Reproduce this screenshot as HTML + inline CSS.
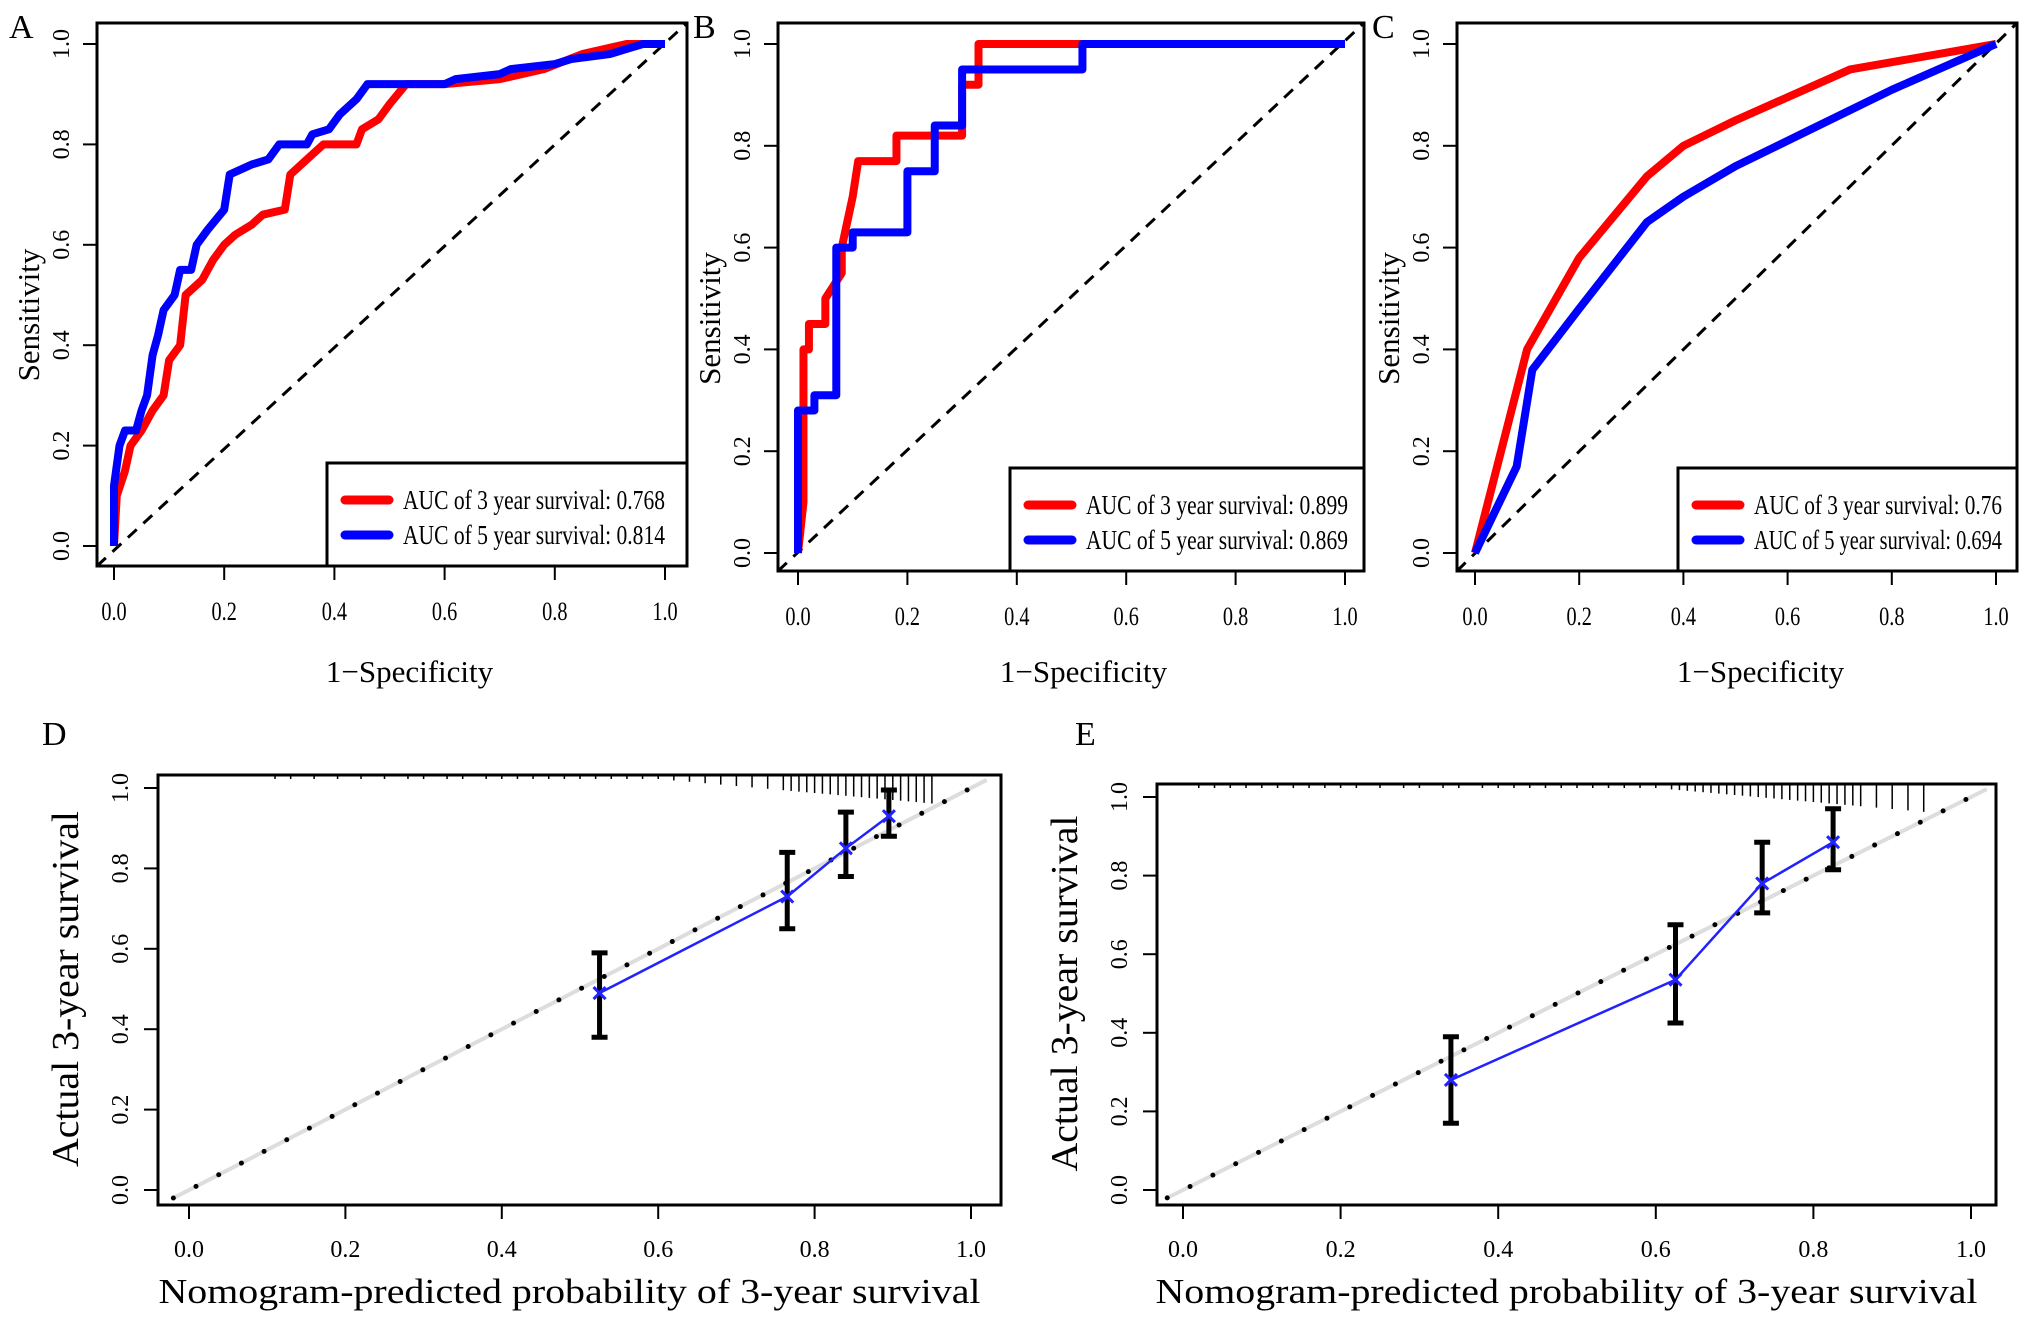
<!DOCTYPE html>
<html><head><meta charset="utf-8"><style>
html,body{margin:0;padding:0;background:#fff;}
svg{display:block;font-family:"Liberation Serif",serif;}
</style></head><body>
<svg id="fig" width="2031" height="1322" viewBox="0 0 2031 1322" xmlns="http://www.w3.org/2000/svg"></svg>
<script>
// ---- ROC data ----
const rocA_red_x=[0,0.005,0.02,0.03,0.05,0.07,0.09,0.1,0.12,0.13,0.16,0.18,0.2,0.22,0.25,0.27,0.31,0.32,0.35,0.38,0.44,0.45,0.48,0.5,0.53,0.6,0.7,0.78,0.85,0.93,1];
const rocA_red_y=[0,0.1,0.15,0.2,0.23,0.27,0.3,0.37,0.4,0.5,0.53,0.57,0.6,0.62,0.64,0.66,0.67,0.74,0.77,0.8,0.8,0.83,0.85,0.88,0.92,0.92,0.93,0.95,0.98,1,1];
const rocA_blue_x=[0,0,0.01,0.02,0.04,0.05,0.06,0.07,0.08,0.09,0.11,0.12,0.14,0.15,0.17,0.2,0.21,0.25,0.28,0.3,0.35,0.36,0.39,0.41,0.44,0.46,0.6,0.62,0.7,0.72,0.8,0.83,0.9,0.96,1];
const rocA_blue_y=[0,0.12,0.2,0.23,0.23,0.27,0.3,0.38,0.42,0.47,0.5,0.55,0.55,0.6,0.63,0.67,0.74,0.76,0.77,0.8,0.8,0.82,0.83,0.86,0.89,0.92,0.92,0.93,0.94,0.95,0.96,0.97,0.98,1,1];
const rocB_red_x=[0,0.01,0.01,0.02,0.02,0.05,0.05,0.08,0.08,0.09,0.1,0.11,0.18,0.18,0.3,0.3,0.33,0.33,1];
const rocB_red_y=[0,0.1,0.4,0.4,0.45,0.45,0.5,0.55,0.6,0.65,0.7,0.77,0.77,0.82,0.82,0.92,0.92,1,1];
const rocB_blue_x=[0,0,0.03,0.03,0.07,0.07,0.1,0.1,0.2,0.2,0.25,0.25,0.3,0.3,0.52,0.52,1];
const rocB_blue_y=[0,0.28,0.28,0.31,0.31,0.6,0.6,0.63,0.63,0.75,0.75,0.84,0.84,0.95,0.95,1,1];
const rocC_red_x=[0,0.05,0.1,0.2,0.33,0.4,0.5,0.72,1];
const rocC_red_y=[0,0.2,0.4,0.58,0.74,0.8,0.85,0.95,1];
const rocC_blue_x=[0,0.08,0.11,0.2,0.33,0.4,0.5,0.8,1];
const rocC_blue_y=[0,0.17,0.36,0.48,0.65,0.7,0.76,0.91,1];
const aucA=["0.768","0.814"], aucB=["0.899","0.869"], aucC=["0.76","0.694"];
// ---- calibration data ----
const calD_x=[0.525,0.765,0.84,0.895], calD_y=[0.49,0.73,0.85,0.93], calD_lo=[0.38,0.65,0.78,0.88], calD_hi=[0.59,0.84,0.94,0.995];
const calE_x=[0.34,0.625,0.735,0.825], calE_y=[0.28,0.535,0.78,0.885], calE_lo=[0.17,0.425,0.705,0.815], calE_hi=[0.39,0.675,0.885,0.97];
const rugD=[0.11,0.13,0.16,0.19,0.22,0.25,0.28,0.3,0.33,0.35,0.38,0.4,0.42,0.44,0.46,0.48,0.5,0.52,0.54,0.56,0.58,0.6,0.62,0.64,0.66,0.68,0.7,0.72,0.74,0.76,0.77,0.78,0.79,0.8,0.81,0.82,0.83,0.84,0.85,0.86,0.87,0.88,0.89,0.9,0.91,0.92,0.93,0.94,0.95];
const rugE=[0.02,0.04,0.06,0.08,0.1,0.12,0.14,0.16,0.18,0.2,0.22,0.25,0.28,0.3,0.33,0.35,0.38,0.4,0.42,0.44,0.46,0.48,0.5,0.52,0.54,0.56,0.58,0.6,0.62,0.63,0.64,0.65,0.66,0.67,0.68,0.69,0.7,0.71,0.72,0.73,0.74,0.75,0.76,0.77,0.78,0.79,0.8,0.81,0.82,0.83,0.84,0.85,0.86,0.88,0.9,0.92,0.94];
const ticks=[0,0.2,0.4,0.6,0.8,1.0], tickLabels=["0.0","0.2","0.4","0.6","0.8","1.0"];

const NS="http://www.w3.org/2000/svg", svg=document.getElementById('fig');
function el(t,a,p){const e=document.createElementNS(NS,t);for(const k in a)e.setAttribute(k,a[k]);(p||svg).appendChild(e);return e;}
function txt(s,a,p){const e=el('text',a,p);e.textContent=s;return e;}

function roc(cfg){
  const g=el('g',{});
  
  
  const X=v=>cfg.x0+v*(cfg.x1-cfg.x0), Y=v=>cfg.y0-v*(cfg.y0-cfg.y1);
  const L=txt(cfg.letter,{x:cfg.bx0-88+cfg.lx,y:38,'font-size':34},g);
  
  const d=el('line',{x1:cfg.bx0,y1:cfg.by1,x2:cfg.bx1,y2:cfg.by0,stroke:'#000','stroke-width':3,'stroke-dasharray':'12,9'},g);
  
  ticks.forEach((t,i)=>{
    el('line',{x1:X(t),x2:X(t),y1:cfg.by1,y2:cfg.by1+14,stroke:'#000','stroke-width':2},g);
    const a=txt(tickLabels[i],{x:X(t),y:cfg.by1+54,'font-size':26,'text-anchor':'middle',transform:`translate(${X(t)},0) scale(0.78,1) translate(${-X(t)},0)`},g);
    
    el('line',{x1:cfg.bx0-14,x2:cfg.bx0,y1:Y(t),y2:Y(t),stroke:'#000','stroke-width':2},g);
    const b=txt(tickLabels[i],{x:0,y:0,'font-size':24,'text-anchor':'middle',transform:`translate(${cfg.bx0-28},${Y(t)}) rotate(-90)`},g);
    
  });
  const xt=txt('1−Specificity',{x:(cfg.x0+cfg.x1)/2+cfg.tx,y:682,'font-size':31,'text-anchor':'middle'},g);
  
  const yt=txt('Sensitivity',{x:0,y:0,'font-size':31,'text-anchor':'middle',transform:`translate(${cfg.bx0-58},${(cfg.y0+cfg.y1)/2+20}) rotate(-90)`},g);
  
  [[cfg.red_x,cfg.red_y,'#f00','curve-3-year'],[cfg.blue_x,cfg.blue_y,'#00f','curve-5-year']].forEach(s=>{
    const p=el('polyline',{points:s[0].map((v,i)=>X(v)+','+Y(s[1][i])).join(' '),fill:'none',stroke:s[2],'stroke-width':8,'stroke-linejoin':'round'},g);
    
  });
  const lg=el('g',{},g);
  
  el('rect',{x:cfg.lgx,y:cfg.lgy,width:cfg.bx1-cfg.lgx,height:cfg.by1-cfg.lgy,fill:'#fff',stroke:'#000','stroke-width':3},lg);
  [['3',cfg.auc[0],'#f00'],['5',cfg.auc[1],'#00f']].forEach((r,i)=>{
    const yy=cfg.lgy+37+i*35;
    el('line',{x1:cfg.lgx+18,x2:cfg.lgx+62,y1:yy,y2:yy,stroke:r[2],'stroke-width':9,'stroke-linecap':'round'},lg);
    const t=txt(`AUC of ${r[0]} year survival:  ${r[1]}`,{x:cfg.lgx+76,y:yy+9,'font-size':27,textLength:cfg.tl,lengthAdjust:'spacingAndGlyphs'},lg);
    
  });
  const bx=el('rect',{x:cfg.bx0,y:cfg.by0,width:cfg.bx1-cfg.bx0,height:cfg.by1-cfg.by0,fill:'none',stroke:'#000','stroke-width':3},g);
  
}
roc({letter:'A',lx:0,tx:20,bx0:97,bx1:687,by0:23,by1:566,x0:114,x1:665,y0:546,y1:44,red_x:rocA_red_x,red_y:rocA_red_y,blue_x:rocA_blue_x,blue_y:rocA_blue_y,auc:aucA,lgx:327,lgy:463,tl:262});
roc({letter:'B',lx:3,tx:12,bx0:778,bx1:1364,by0:23,by1:571,x0:798,x1:1345,y0:553,y1:44,red_x:rocB_red_x,red_y:rocB_red_y,blue_x:rocB_blue_x,blue_y:rocB_blue_y,auc:aucB,lgx:1010,lgy:468,tl:262});
roc({letter:'C',lx:3,tx:25,bx0:1457,bx1:2017,by0:23,by1:571,x0:1475,x1:1996,y0:553,y1:44,red_x:rocC_red_x,red_y:rocC_red_y,blue_x:rocC_blue_x,blue_y:rocC_blue_y,auc:aucC,lgx:1678,lgy:468,tl:248});

function cal(cfg){
  const g=el('g',{});
  
  
  const X=v=>cfg.x0+v*(cfg.x1-cfg.x0), Y=v=>cfg.y0-v*(cfg.y0-cfg.y1);
  const L=txt(cfg.letter,{x:cfg.lx,y:745,'font-size':34},g);
  
  const il=el('line',{x1:X(-0.02),y1:Y(-0.02),x2:X(1.02),y2:Y(1.02),stroke:'#ddd','stroke-width':4},g);
  
  const dl=el('line',{x1:X(-0.02),y1:Y(-0.02),x2:X(1.02),y2:Y(1.02),stroke:'#000','stroke-width':5,'stroke-linecap':'round','stroke-dasharray':'0,25.5'},g);
  
  cfg.rug.forEach(r=>{
    const l=el('line',{x1:X(r),x2:X(r),y1:cfg.by0,y2:cfg.by0+4+Math.max(0,(r-0.6))*70,stroke:'#000','stroke-width':1.5},g);
    
  });
  ticks.forEach((t,i)=>{
    el('line',{x1:X(t),x2:X(t),y1:cfg.by1,y2:cfg.by1+14,stroke:'#000','stroke-width':2},g);
    const a=txt(tickLabels[i],{x:X(t),y:cfg.by1+52,'font-size':24,'text-anchor':'middle'},g);
    
    el('line',{x1:cfg.bx0-14,x2:cfg.bx0,y1:Y(t),y2:Y(t),stroke:'#000','stroke-width':2},g);
    const b=txt(tickLabels[i],{x:0,y:0,'font-size':24,'text-anchor':'middle',transform:`translate(${cfg.bx0-30},${Y(t)}) rotate(-90)`},g);
    
  });
  const xt=txt('Nomogram-predicted probability of 3-year survival',{x:(cfg.bx0+cfg.bx1)/2-10,y:1303,'font-size':35,'text-anchor':'middle',textLength:822,lengthAdjust:'spacingAndGlyphs'},g);
  
  const yt=txt('Actual 3-year survival',{x:0,y:0,'font-size':38,'text-anchor':'middle',textLength:356,lengthAdjust:'spacingAndGlyphs',transform:`translate(${cfg.bx0-80},${(cfg.y0+cfg.y1)/2}) rotate(-90)`},g);
  
  const p=el('polyline',{points:cfg.xs.map((v,i)=>X(v)+','+Y(cfg.ys[i])).join(' '),fill:'none',stroke:'#22f','stroke-width':2.5},g);
  
  cfg.xs.forEach((v,i)=>{
    const x=X(v);
    const e=el('path',{d:`M${x},${Y(cfg.lo[i])}V${Y(cfg.hi[i])}M${x-8},${Y(cfg.lo[i])}H${x+8}M${x-8},${Y(cfg.hi[i])}H${x+8}`,stroke:'#000','stroke-width':5,fill:'none'},g);
    
    const y=Y(cfg.ys[i]);
    const m=el('path',{d:`M${x-6},${y-6}L${x+6},${y+6}M${x-6},${y+6}L${x+6},${y-6}`,stroke:'#22f','stroke-width':3},g);
    
  });
  const bx=el('rect',{x:cfg.bx0,y:cfg.by0,width:cfg.bx1-cfg.bx0,height:cfg.by1-cfg.by0,fill:'none',stroke:'#000','stroke-width':3},g);
  
}
cal({letter:'D',lx:42,bx0:158,bx1:1001,by0:775,by1:1205,x0:189,x1:971,y0:1190,y1:788,xs:calD_x,ys:calD_y,lo:calD_lo,hi:calD_hi,rug:rugD});
cal({letter:'E',lx:1075,bx0:1157,bx1:1996,by0:784,by1:1205,x0:1183,x1:1971,y0:1190,y1:797,xs:calE_x,ys:calE_y,lo:calE_lo,hi:calE_hi,rug:rugE});
</script>
</body></html>
